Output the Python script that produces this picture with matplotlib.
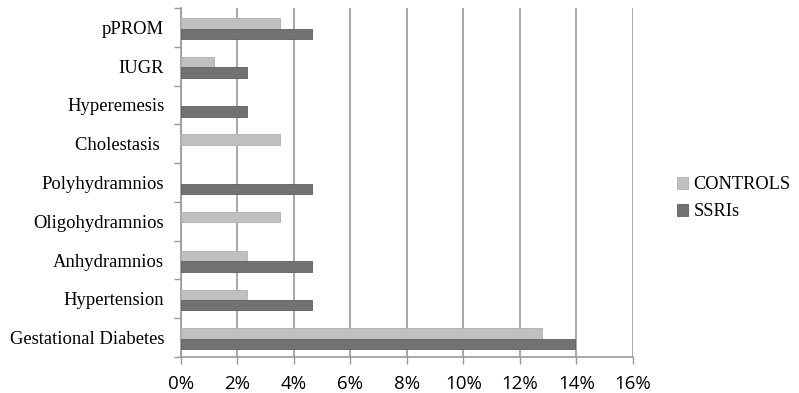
import numpy as np
import matplotlib.pyplot as plt
from matplotlib.ticker import PercentFormatter

# data (fractions)
categories = ["Gestational Diabetes", "Hypertension", "Anhydramnios", "Oligohydramnios",
              "Polyhydramnios", "Cholestasis ", "Hyperemesis", "IUGR", "pPROM"]
controls = [0.1279, 0.0233, 0.0233, 0.0349, 0.0, 0.0349, 0.0, 0.0116, 0.0349]
ssris = [0.1395, 0.0465, 0.0465, 0.0, 0.0465, 0.0, 0.0233, 0.0233, 0.0465]

fig = plt.figure(figsize=(7.99, 3.93), dpi=100)
ax = fig.add_axes([0.2265, 0.0916, 0.5655, 0.888])

y = np.arange(len(categories))
h = 0.27
# no outline on empty bars
lw_c = [0.6 if v > 0 else 0 for v in controls]
lw_s = [0.6 if v > 0 else 0 for v in ssris]
ax.barh(y + h / 2 - 0.03, controls, height=h, color="#c0c0c0", edgecolor="#b0b0b0",
        linewidth=lw_c, label="CONTROLS", zorder=3)
ax.barh(y - h / 2 - 0.03, ssris, height=h, color="#727272", edgecolor="#5e5e5e",
        linewidth=lw_s, label="SSRIs", zorder=3)

ax.set_xlim(0, 0.16)
ax.set_ylim(-0.5, len(categories) - 0.5)
ax.set_xticks(np.arange(0, 0.161, 0.02))
ax.xaxis.set_major_formatter(PercentFormatter(1.0, decimals=0))
ax.set_yticks(y)
ax.set_yticklabels(categories, family="Liberation Serif", fontsize=13.4)
ax.set_yticks(np.arange(-0.5, len(categories), 1), minor=True)
ax.tick_params(axis="y", which="major", length=0, pad=12)
ax.tick_params(axis="y", which="minor", length=5, color="#999999", width=1)
ax.tick_params(axis="x", length=5, color="#999999", width=1, labelsize=13.5, pad=8)
for lab in ax.get_xticklabels():
    lab.set_family("Open Sans")

ax.grid(axis="x", color="#999999", linewidth=1.2, zorder=0)
for s in ["top", "right"]:
    ax.spines[s].set_visible(False)
for s in ["left", "bottom"]:
    ax.spines[s].set_color("#999999")
    ax.spines[s].set_linewidth(1.2)

ax.legend(loc="center left", bbox_to_anchor=(1.098, 0.455), frameon=False,
          prop={"family": "Liberation Serif", "size": 13.2},
          handlelength=0.6, handleheight=0.6, handletextpad=0.3, labelspacing=0.55,
          borderpad=0, borderaxespad=0)

fig.savefig("out.png", dpi=100)
